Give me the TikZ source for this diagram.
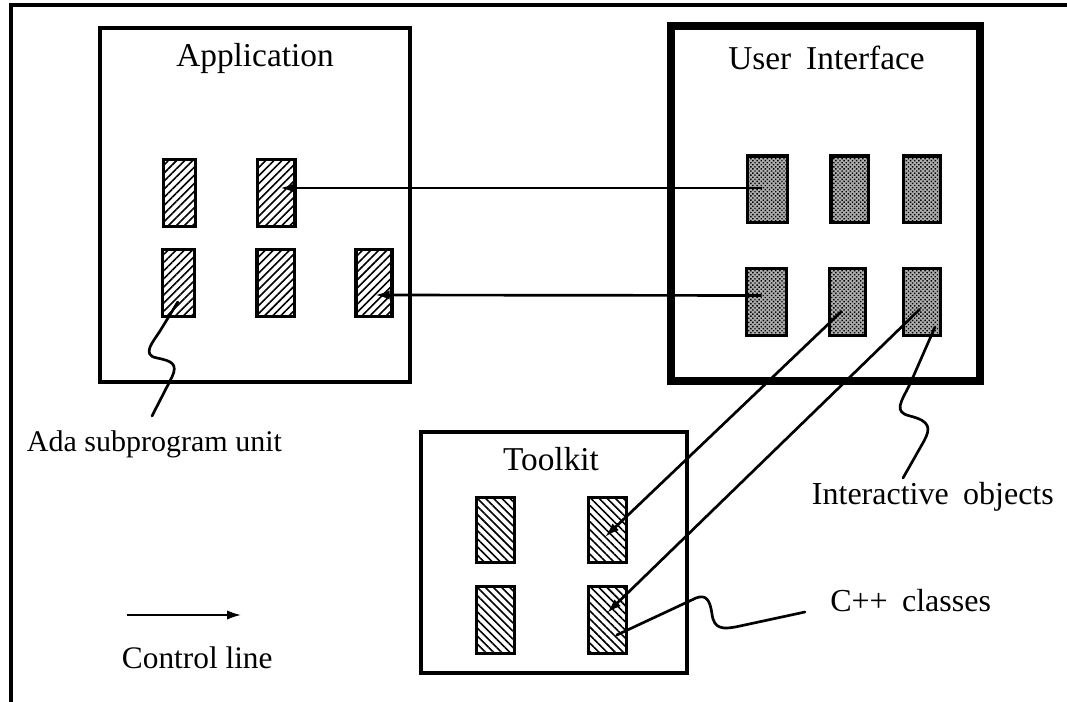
\documentclass[tikz,border=0pt]{standalone}
\usepackage{fontspec}
\setmainfont{Liberation Serif}
\usetikzlibrary{calc,arrows.meta,patterns.meta}

\tikzset{
  frameline/.style={line width=2.4pt},
  boxthin/.style={draw, line width=2.3pt, inner sep=0pt},
  boxthick/.style={draw, line width=6pt, inner sep=0pt},
  unit/.style={draw, line width=2.5pt, inner sep=0pt, minimum height=50pt},
  adaunit/.style={unit, pattern={Lines[angle=45,distance=4.3pt,line width=1.2pt]}},
  cppunit/.style={unit, pattern={Lines[angle=-45,distance=4.3pt,line width=1.2pt]}},
  iounit/.style={unit, fill=black!32,
    postaction={pattern={Dots[distance=2.2pt,radius=0.75pt,angle=45]}}},
  ctrl/.style={line width=2pt, -{Latex[length=11pt,width=7pt]}},
  leader/.style={line width=2pt, line cap=round, line join=round},
  title/.style={anchor=base, font=\fontsize{25}{30}\selectfont, inner sep=0pt},
  label/.style={anchor=base west, font=\fontsize{24}{28}\selectfont, inner sep=0pt},
}

\begin{document}
\begin{tikzpicture}[x=0.75pt, y=-0.75pt]
\useasboundingbox (0,0) rectangle (1067,702);

% page frame (top and left edges only)
\coordinate (fc) at (11,5);
\coordinate (fr) at (1067,5);
\coordinate (fb) at (11,702);
\draw[frameline] (fr) -- (fc) -- (fb);

% the three component boxes
\node[boxthin, minimum width=232.5pt, minimum height=265.5pt] (app) at (255,205) {};
\node[boxthick, minimum width=232pt, minimum height=266pt] (ui) at (825.75,203.5) {};
\node[boxthin, minimum width=199.5pt, minimum height=180.75pt] (tk) at (554,552.5) {};

\node[title] (appt) at (255,67) {Application};
\node[title] (uit) at (826.5,70) {User\hspace{0.45em}Interface};
\node[title] (tkt) at (551,470) {Toolkit};

% Ada subprogram units
\node[adaunit, minimum width=24pt] (A1) at (179.5,193) {};
\node[adaunit, minimum width=28pt] (A2) at (276.2,193) {};
\node[adaunit, minimum width=24pt] (A3) at (178.8,283) {};
\node[adaunit, minimum width=28pt] (A4) at (275.5,283) {};
\node[adaunit, minimum width=27pt] (A5) at (374,283) {};

% interactive objects
\node[iounit, minimum width=30pt] (U1) at (767.5,189.5) {};
\node[iounit, minimum width=28pt] (U2) at (849.5,189.5) {};
\node[iounit, minimum width=27.5pt] (U3) at (922,189.5) {};
\node[iounit, minimum width=30pt] (U4) at (766.5,302) {};
\node[iounit, minimum width=27pt] (U5) at (847.5,302) {};
\node[iounit, minimum width=27.5pt] (U6) at (922,302) {};

% C++ classes
\node[cppunit, minimum width=28.5pt, minimum height=48.5pt] (T1) at (495.8,530) {};
\node[cppunit, minimum width=28.5pt, minimum height=48.5pt] (T2) at (607.8,530) {};
\node[cppunit, minimum width=28.5pt] (T3) at (495.8,620) {};
\node[cppunit, minimum width=28.5pt] (T4) at (607.8,620) {};

% control lines
\draw[ctrl] ($(U1.center)+(-6,-1.5)$) -- ($(A2.center)+(3.8,-5)$);
\draw[ctrl] ($(U4.center)+(-4.8,-6.5)$) -- ($(A5.center)+(1,12)$);
\draw[ctrl] ($(U5.center)+(-5.5,9)$) -- ($(T2.center)+(-2.8,7)$);
\draw[ctrl] ($(U6.center)+(-2,7)$) -- ($(T4.center)+(-0.8,-7)$);

% labels and their leaders
\node[label, font=\fontsize{22.5}{27}\selectfont] (ada) at (26.7,451.7) {Ada subprogram unit};
\coordinate (adatip) at (152,416);
\draw[leader] ($(A3.center)+(-1,19)$) -- (160,331)
  .. controls (153,342) and (141,355) .. (157,358)
  .. controls (172,361) and (178,364) .. (172,377) -- (adatip);

\node[label] (io) at (811.7,504) {Interactive\hspace{0.45em}objects};
\coordinate (iotip) at (903,478);
\draw[leader] ($(U6.center)+(13,25)$) -- (910,384)
  .. controls (901,402) and (893,412) .. (910,416)
  .. controls (930,421) and (931,428) .. (924,441) -- (iotip);

\node[label] (cc) at (830,611.7) {C++\hspace{0.45em}classes};
\coordinate (cctip) at (805,612);
\draw[leader] ($(T4.center)+(9,15)$) -- (696,598)
  .. controls (706,594) and (710,600) .. (712,614)
  .. controls (714,629) and (722,630) .. (740,626) -- (cctip);

% legend
\coordinate (cl1) at (126.7,615);
\coordinate (cl2) at (241.7,615);
\draw[ctrl] (cl1) -- (cl2);
\node[label, font=\fontsize{23.5}{28}\selectfont] (clt) at (121.7,668.3) {Control line};
\end{tikzpicture}
\end{document}
